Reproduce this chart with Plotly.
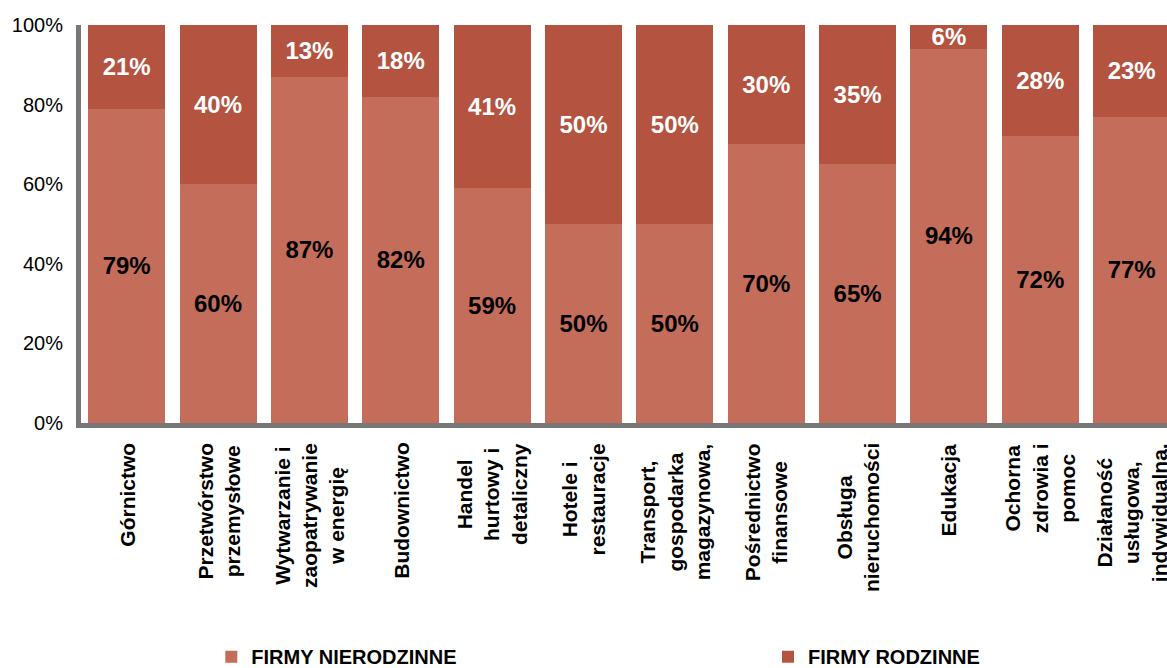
import plotly.graph_objects as go

categories = [
    "Górnictwo",
    "Przetwórstwo<br>przemysłowe",
    "Wytwarzanie i<br>zaopatrywanie<br>w energię",
    "Budownictwo",
    "Handel<br>hurtowy i<br>detaliczny",
    "Hotele i<br>restauracje",
    "Transport,<br>gospodarka<br>magazynowa,",
    "Pośrednictwo<br>finansowe",
    "Obsługa<br>nieruchomości",
    "Edukacja",
    "Ochorna<br>zdrowia i<br>pomoc",
    "Działaność<br>usługowa,<br>indywidualna.",
]
nierodzinne = [79, 60, 87, 82, 59, 50, 50, 70, 65, 94, 72, 77]
rodzinne = [21, 40, 13, 18, 41, 50, 50, 30, 35, 6, 28, 23]
y_ticks = [0, 20, 40, 60, 80, 100]
y_tick_labels = ["0%", "20%", "40%", "60%", "80%", "100%"]

FONT = "Liberation Sans, Arial, sans-serif"
C_LOW = "#C46D5B"
C_HIGH = "#B35340"

fig = go.Figure()
fig.add_trace(go.Bar(
    name="FIRMY NIERODZINNE",
    x=categories, y=nierodzinne,
    marker=dict(color=C_LOW, line=dict(width=0)),
    text=[f"{v}%" for v in nierodzinne],
    textposition="inside", insidetextanchor="middle", textangle=0,
    constraintext="none",
    textfont=dict(family=FONT, size=24, color="black", weight="bold"),
    legend="legend",
))
fig.add_trace(go.Bar(
    name="FIRMY RODZINNE",
    x=categories, y=rodzinne,
    marker=dict(color=C_HIGH, line=dict(width=0)),
    text=[f"{v}%" for v in rodzinne],
    textposition="inside", insidetextanchor="middle", textangle=0,
    constraintext="none",
    textfont=dict(family=FONT, size=24, color="white", weight="bold"),
    legend="legend2",
))

# category labels, centred multi-line, rotated (placed on the category axis)
for cat in categories:
    fig.add_annotation(
        x=cat, xref="x", y=0, yref="paper",
        text=cat, showarrow=False,
        textangle=-90, align="center",
        xanchor="center", yanchor="top", yshift=-18,
        font=dict(family=FONT, size=21, color="black", weight="bold"),
    )

legend_common = dict(
    orientation="h",
    xanchor="left",
    y=-0.587, yanchor="middle",
    font=dict(family=FONT, size=20, color="black", weight="bold"),
    bgcolor="rgba(0,0,0,0)",
)

fig.update_layout(
    barmode="stack",
    bargap=0.157,
    width=1167, height=668,
    margin=dict(l=81, r=0, t=25, b=245, autoexpand=False),
    paper_bgcolor="white", plot_bgcolor="white",
    font=dict(family=FONT, color="black"),
    showlegend=True,
    legend=dict(x=0.12, **legend_common),
    legend2=dict(x=0.6326, **legend_common),
    uniformtext=dict(mode=False),
)
fig.update_xaxes(
    type="category",
    range=[-0.5, 11.387],
    automargin=False,
    showline=True, linecolor="#777777", linewidth=5,
    showgrid=False, zeroline=False,
    ticks="", showticklabels=False,
)
fig.update_yaxes(
    range=[0, 100],
    automargin=False,
    tickvals=y_ticks, ticktext=y_tick_labels,
    showline=True, linecolor="#777777", linewidth=5,
    showgrid=False, zeroline=False,
    ticks="",
    ticklabelstandoff=9,
    tickfont=dict(family=FONT, size=20, color="black"),
)

fig.write_html("out.html")
